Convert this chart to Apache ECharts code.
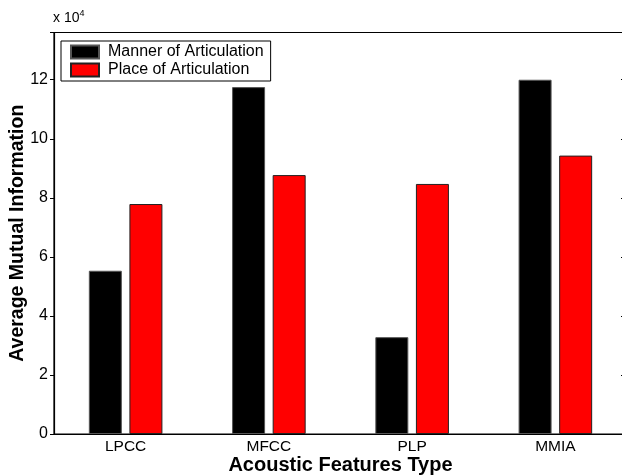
<!DOCTYPE html>
<html>
<head>
<meta charset="utf-8">
<style>
  html, body { margin: 0; padding: 0; background: #fff; }
  #chart { width: 622px; height: 476px; }
</style>
<script src="https://cdn.jsdelivr.net/npm/echarts@6/dist/echarts.min.js"></script>
</head>
<body>
<div id="chart"></div>
<script>
// Feature types on the x axis
const categories = ['LPCC', 'MFCC', 'PLP', 'MMIA'];
// Average mutual information per feature type
const mannerValues = [55300, 117500, 32800, 120000];
const placeValues = [77900, 87700, 84700, 94300];
const seriesNames = ['Manner of Articulation', 'Place of Articulation'];

const FONT = '"Liberation Sans", Arial, Helvetica, sans-serif';
const chart = echarts.init(document.getElementById('chart'), null, { renderer: 'canvas' });

const yCommon = { type: 'value', min: 0, max: 136000, interval: 20000 };

chart.setOption({
  animation: false,
  backgroundColor: '#ffffff',
  textStyle: { fontFamily: FONT },
  // boxed plot area; it runs a few pixels past the right edge of the canvas
  grid: {
    left: 54, width: 573, top: 32.5, bottom: 42,
    containLabel: false, outerBoundsMode: 'none',
    show: true, borderColor: '#000', borderWidth: 1.2, backgroundColor: 'transparent'
  },
  legend: {
    data: seriesNames,
    orient: 'vertical',
    left: 61,
    top: 41,
    itemWidth: 28,
    itemHeight: 13,
    itemGap: 2,
    icon: 'rect',
    padding: [3, 7, 3, 9],
    backgroundColor: '#ffffff',
    borderColor: '#000000',
    borderWidth: 1,
    borderRadius: 0,
    textStyle: { fontFamily: FONT, fontSize: 16, color: '#000', padding: [0, 0, 0, 4] }
  },
  graphic: [{
    type: 'text',
    left: 53,
    top: 9,
    style: {
      text: '{a|x 10}{b|4}',
      rich: {
        a: { fontFamily: FONT, fontSize: 14, fill: '#000', verticalAlign: 'bottom', lineHeight: 16 },
        b: { fontFamily: FONT, fontSize: 9, fill: '#000', verticalAlign: 'top', lineHeight: 16, padding: [0, 0, 8, 0] }
      }
    }
  }],
  xAxis: [{
    type: 'category',
    data: categories,
    position: 'bottom',
    name: 'Acoustic Features Type',
    nameLocation: 'middle',
    nameGap: 21,
    nameMoveOverlap: false,
    nameTextStyle: { fontFamily: FONT, fontSize: 20, fontWeight: 'bold', color: '#000' },
    axisLine: { onZero: false, lineStyle: { color: '#000', width: 1.2 } },
    axisTick: { inside: true, alignWithLabel: true, length: 5, lineStyle: { color: '#000' } },
    axisLabel: { fontFamily: FONT, fontSize: 15.5, color: '#000', margin: 5 },
    splitLine: { show: false }
  }, {
    type: 'category',
    data: categories,
    position: 'top',
    axisLine: { show: false, onZero: false },
    axisTick: { inside: true, alignWithLabel: true, length: 5, lineStyle: { color: '#000' } },
    axisLabel: { show: false },
    splitLine: { show: false }
  }],
  yAxis: [Object.assign({}, yCommon, {
    position: 'left',
    name: 'Average Mutual Information',
    nameLocation: 'middle',
    nameGap: 26,
    nameRotate: 90,
    nameMoveOverlap: false,
    nameTextStyle: { fontFamily: FONT, fontSize: 19.5, fontWeight: 'bold', color: '#000' },
    axisLine: { show: true, onZero: false, lineStyle: { color: '#000', width: 1.2 } },
    axisTick: { show: true, inside: false, length: 4, lineStyle: { color: '#000' } },
    axisLabel: {
      fontFamily: FONT, fontSize: 16, color: '#000', margin: 6,
      formatter: v => (v % 20000 === 0 ? String(v / 10000) : '')
    },
    splitLine: { show: false }
  }), Object.assign({}, yCommon, {
    position: 'right',
    axisLine: { show: false, onZero: false },
    axisTick: { show: true, inside: true, length: 6, lineStyle: { color: '#000' } },
    axisLabel: { show: false },
    splitLine: { show: false }
  })],
  series: [{
    name: seriesNames[0],
    type: 'bar',
    xAxisIndex: 0,
    yAxisIndex: 0,
    data: mannerValues,
    barWidth: 33,
    barGap: '23%',
    itemStyle: { color: '#000000', borderColor: '#555', borderWidth: 1 }
  }, {
    name: seriesNames[1],
    type: 'bar',
    xAxisIndex: 0,
    yAxisIndex: 0,
    data: placeValues,
    barWidth: 33,
    barGap: '23%',
    itemStyle: { color: '#ff0000', borderColor: '#222', borderWidth: 1 }
  }]
});
</script>
</body>
</html>
